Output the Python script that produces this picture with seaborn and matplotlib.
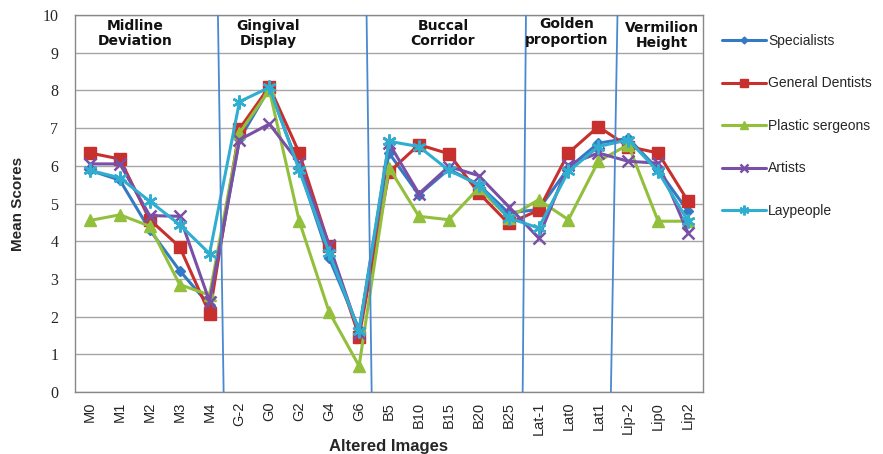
import numpy as np
import pandas as pd
import matplotlib
matplotlib.use("Agg")
import matplotlib.pyplot as plt
import seaborn as sns

images = ["M0", "M1", "M2", "M3", "M4",
          "G-2", "G0", "G2", "G4", "G6",
          "B5", "B10", "B15", "B20", "B25",
          "Lat-1", "Lat0", "Lat1",
          "Lip-2", "Lip0", "Lip2"]

specialists = [5.88, 5.62, 4.3, 3.22, 2.3,
               6.7, 8.06, 5.94, 3.55, 1.66,
               6.34, 5.23, 5.91, 5.5, 4.75,
               4.84, 5.94, 6.6, 6.73, 5.9, 4.79]
general_dentists = [6.34, 6.18, 4.57, 3.85, 2.08,
                    6.98, 8.1, 6.34, 3.88, 1.47,
                    5.83, 6.56, 6.32, 5.28, 4.47,
                    4.82, 6.34, 7.04, 6.51, 6.34, 5.06]
plastic_surgeons = [4.55, 4.7, 4.4, 2.85, 2.57,
                    6.87, 8.01, 4.53, 2.12, 0.69,
                    5.95, 4.66, 4.57, 5.41, 4.62,
                    5.1, 4.57, 6.12, 6.56, 4.53, 4.53]
artists = [6.05, 6.05, 4.68, 4.66, 2.4,
           6.69, 7.11, 6.07, 3.9, 1.57,
           6.6, 5.26, 5.98, 5.74, 4.92,
           4.09, 6.03, 6.34, 6.12, 6.07, 4.22]
laypeople = [5.88, 5.68, 5.06, 4.44, 3.67,
             7.7, 8.08, 5.88, 3.69, 1.62,
             6.65, 6.51, 5.88, 5.5, 4.62,
             4.35, 5.85, 6.51, 6.69, 5.85, 4.53]

series = {
    "Specialists": specialists,
    "General Dentists": general_dentists,
    "Plastic sergeons": plastic_surgeons,
    "Artists": artists,
    "Laypeople": laypeople,
}
colors = ["#3479c4", "#c8302e", "#93c03c", "#7a4fa6", "#30aed0"]
markers = ["D", "s", "^", "x", (6, 2, 0)]
msizes = [5, 9, 9, 9, 10]

sections = ["Midline\nDeviation", "Gingival\nDisplay", "Buccal\nCorridor",
            "Golden\nproportion", "Vermilion\nHeight"]
section_x = [1.5, 5.95, 11.8, 15.95, 19.13]
section_y = [9.52, 9.52, 9.52, 9.55, 9.45]
# divider lines between groups (x at top, x at bottom), slightly slanted
dividers = [(4.28, 4.47), (9.25, 9.42), (14.58, 14.47), (17.64, 17.42)]

sns.set_style("white")

fig = plt.figure(figsize=(8.83, 4.54), dpi=100)
ax = fig.add_axes([75 / 883, 1 - 392 / 454, 628 / 883, 377 / 454])

pos = np.arange(len(images))
for (name, vals), c, m, ms in zip(series.items(), colors, markers, msizes):
  df = pd.DataFrame({"pos": pos, "score": vals})
  sns.lineplot(data=df, x="pos", y="score", ax=ax, color=c, marker=m,
               markersize=ms, linewidth=2.2, markeredgecolor=c,
               markeredgewidth=1.8 if m in ("x",) or isinstance(m, tuple) else 1,
               label=name, zorder=3)

for top, bot in dividers:
  ax.plot([bot, top], [0, 10], color="#4a89d0", linewidth=1.3, zorder=4)

for txt, x, y in zip(sections, section_x, section_y):
  ax.text(x, y, txt, ha="center", va="center", fontsize=10,
          fontweight="bold", family="DejaVu Sans", color="#111111",
          linespacing=1.1, zorder=5)

ax.set_xlim(-0.5, len(images) - 0.5)
ax.set_ylim(0, 10)
ax.set_yticks(range(0, 11))
ax.set_yticklabels([str(v) for v in range(0, 11)], family="Liberation Serif", fontsize=11.5)
ax.set_xticks(pos)
ax.set_xticklabels(images, rotation=90, family="Liberation Sans", fontsize=10.5)
ax.set_xticks(np.arange(-0.5, len(images)), minor=True)
ax.tick_params(axis="x", which="major", length=0, pad=7)
ax.tick_params(axis="x", which="minor", length=5, color="#888888", direction="out")
ax.tick_params(axis="y", length=0, pad=12)
ax.grid(axis="y", color="#a6a6a6", linewidth=1, zorder=0)
ax.grid(axis="x", visible=False)
for s in ax.spines.values():
  s.set_color("#888888")
  s.set_linewidth(1)

ax.set_xlabel("Altered Images", fontsize=12, fontweight="bold", family="Liberation Sans", va="center")
ax.xaxis.set_label_coords(0.5, -(446 - 392) / 377)
ax.set_ylabel("Mean Scores", fontsize=11, fontweight="bold", family="Liberation Sans", va="center")
ax.yaxis.set_label_coords(-(75 - 18) / 628, 0.5)

ax.legend(loc="upper left", bbox_to_anchor=(722 / 883, 1 - 34 / 454),
          bbox_transform=fig.transFigure, frameon=False,
          prop={"family": "Liberation Sans", "size": 10},
          handlelength=3.2, handletextpad=0.1, labelspacing=2.05,
          borderaxespad=0, borderpad=0, markerscale=0.7)

fig.savefig("out.png", dpi=100)
